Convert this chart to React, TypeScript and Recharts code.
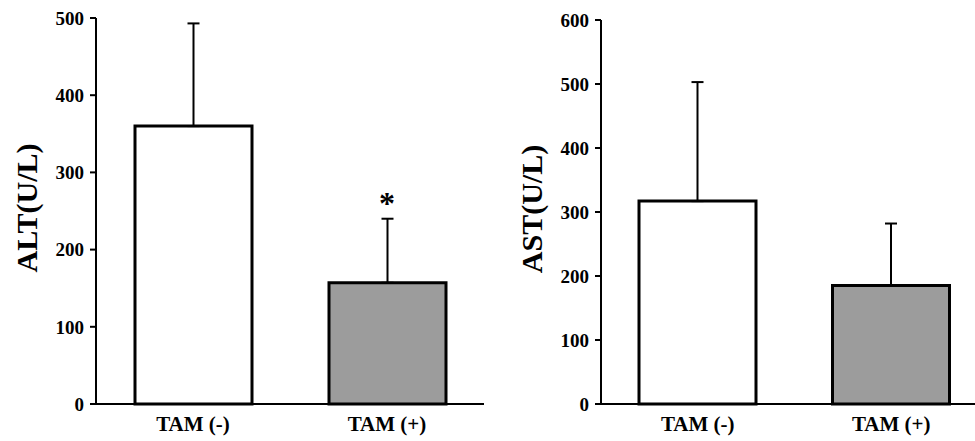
import { BarChart, Bar, XAxis, YAxis, ErrorBar, Cell, ReferenceDot } from 'recharts'

const categories = ['TAM (-)', 'TAM (+)']
const altMean = [360, 157]
const altSD = [133, 83]
const astMean = [317, 185]
const astSD = [186, 97]
const altTicks = [0, 100, 200, 300, 400, 500]
const astTicks = [0, 100, 200, 300, 400, 500, 600]
// significance mark (*) above TAM (+) in the ALT panel
const altStarY = 267

const barFills = ['#ffffff', '#9c9c9c']
const font = 'Liberation Serif, Times New Roman, serif'

interface PanelProps {
  label: string
  means: number[]
  sds: number[]
  ticks: number[]
  width: number
  marginLeft: number
  marginTop: number
  marginRight: number
  star?: number
}

function AxisTitle({ viewBox, value }: any) {
  const cx = viewBox.x + 20
  const cy = viewBox.y + viewBox.height / 2 - 3
  return (
    <text
      x={cx}
      y={cy}
      transform={`rotate(-90, ${cx}, ${cy})`}
      textAnchor="middle"
      dominantBaseline="central"
      fontFamily={font}
      fontWeight="bold"
      fontSize={30}
      fill="#000"
    >
      {value}
    </text>
  )
}

function Star({ cx, cy }: any) {
  return (
    <text x={cx} y={cy + 16} textAnchor="middle" fontFamily={font} fontWeight="bold" fontSize={32} fill="#000">
      *
    </text>
  )
}

function Panel({ label, means, sds, ticks, width, marginLeft, marginTop, marginRight, star }: PanelProps) {
  const data = categories.map((name, i) => ({ name, mean: means[i], err: [0, sds[i]] }))
  const top = ticks[ticks.length - 1]

  return (
    <BarChart
      width={width}
      height={441}
      data={data}
      margin={{ top: marginTop, right: marginRight, bottom: 7, left: marginLeft }}
    >
      <XAxis
        dataKey="name"
        height={30}
        tickSize={0}
        tickMargin={12}
        axisLine={{ stroke: '#000', strokeWidth: 2 }}
        tick={{ fill: '#000', fontFamily: font, fontWeight: 'bold', fontSize: 21 }}
      />
      <YAxis
        width={90}
        domain={[0, top]}
        ticks={ticks}
        tickSize={6}
        tickMargin={6}
        axisLine={{ stroke: '#000', strokeWidth: 2 }}
        tickLine={{ stroke: '#000', strokeWidth: 2 }}
        tick={{ fill: '#000', fontFamily: font, fontWeight: 'bold', fontSize: 19 }}
        label={<AxisTitle value={label} />}
      />
      <Bar dataKey="mean" barSize={117} stroke="#000" strokeWidth={3} isAnimationActive={false}>
        {data.map((d, i) => (
          <Cell key={d.name} fill={barFills[i]} />
        ))}
        <ErrorBar dataKey="err" width={6} stroke="#000" strokeWidth={2} />
      </Bar>
      {star !== undefined && (
        <ReferenceDot x={categories[1]} y={star} r={0} shape={<Star />} />
      )}
    </BarChart>
  )
}

export default function App() {
  return (
    <div style={{ position: 'fixed', left: 0, top: 0, width: 975, height: 441, overflow: 'hidden', background: '#fff' }}>
      <div style={{ position: 'absolute', left: 0, top: 0 }}>
        <Panel
          label="ALT(U/L)"
          means={altMean}
          sds={altSD}
          ticks={altTicks}
          width={500}
          marginLeft={6}
          marginTop={18}
          marginRight={16}
          star={altStarY}
        />
      </div>
      <div style={{ position: 'absolute', left: 480, top: 0 }}>
        <Panel
          label="AST(U/L)"
          means={astMean}
          sds={astSD}
          ticks={astTicks}
          width={520}
          marginLeft={31}
          marginTop={20}
          marginRight={12}
        />
      </div>
    </div>
  )
}
